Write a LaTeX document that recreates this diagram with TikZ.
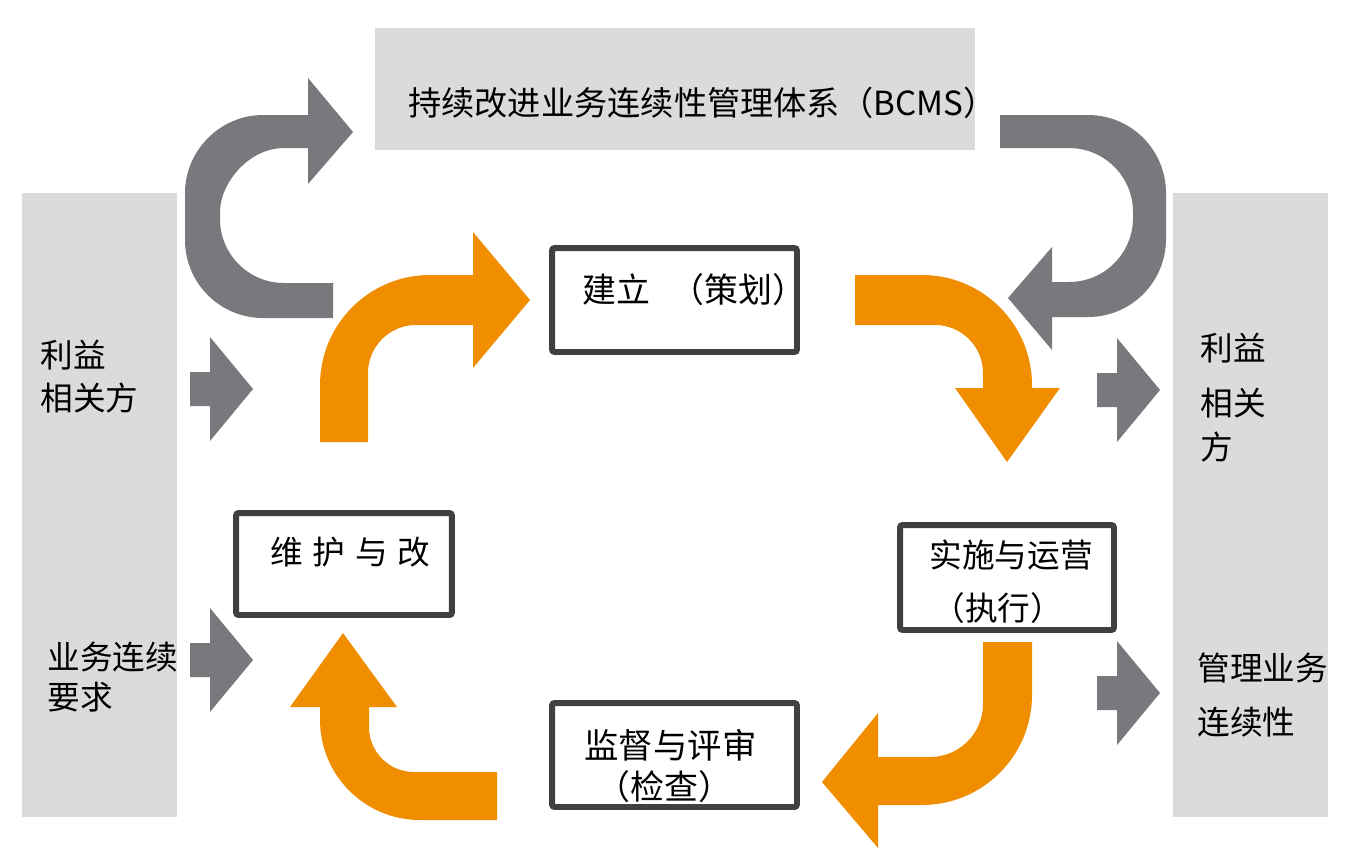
\documentclass[tikz,border=0pt]{standalone}
\usepackage{fontspec}
\setmainfont{Noto Sans CJK SC}
\definecolor{panel}{RGB}{218,219,221}
\definecolor{garrow}{RGB}{120,121,124}
\definecolor{borange}{RGB}{240,142,0}
\definecolor{boxline}{RGB}{64,64,66}
\tikzset{
  panelbox/.style={fill=panel, draw=none, inner sep=0pt},
  stagebox/.style={draw=boxline, line width=3.4pt, fill=white, rounded corners=1.5pt, inner sep=0pt},
  lbl/.style={inner sep=0pt, anchor=west, font=\fontsize{18.6pt}{22pt}\selectfont},
  biglbl/.style={lbl, font=\fontsize{19.3pt}{23pt}\selectfont},
  garrowfill/.style={fill=garrow},
  oarrowfill/.style={fill=borange},
  sidearrow/.pic={\fill[garrowfill] (-63,-17) -- (-43,-17) -- (-43,-52) -- (0,0) -- (-43,52) -- (-43,17) -- (-63,17) -- cycle;}
}
\begin{document}
\begin{tikzpicture}[x=0.02cm, y=-0.02cm]
\useasboundingbox (0,0) rectangle (1368,852);
% panels
\node[panelbox, minimum width=3.1cm, minimum height=12.48cm] (lpanel) at (99.5,505) {};
\node[panelbox, minimum width=3.1cm, minimum height=12.48cm] (rpanel) at (1250.5,505) {};
\node[panelbox, minimum width=12cm, minimum height=2.44cm] (top) at (675,89) {};
\node[lbl, font=\fontsize{18.9pt}{23pt}\selectfont] (toptext) at (408,103) {持续改进业务连续性管理体系（BCMS）};
% gray C arrows
\fill[garrowfill] (333,318) -- (263,318) .. controls (219.9,318) and (185,283.1) .. (185,240)
  -- (185,193) .. controls (185,150.9) and (219.9,115) .. (263,115) -- (308,115) -- (308,78)
  -- (353,132) -- (308,184) -- (308,148) -- (284,148) .. controls (248.7,148) and (220,183.3) .. (220,212)
  -- (220,219) .. controls (220,254.3) and (248.7,283) .. (284,283) -- (333,283) -- cycle;
\fill[garrowfill] (1000,115) -- (1088,115) .. controls (1131.1,115) and (1166,149.9) .. (1166,193)
  -- (1166,239) .. controls (1166,282.1) and (1131.1,317) .. (1088,317) -- (1052,317) -- (1052,350)
  -- (1008,298) -- (1052,247) -- (1052,282) -- (1069,282) .. controls (1104.3,282) and (1133,253.3) .. (1133,218)
  -- (1133,212) .. controls (1133,176.7) and (1104.3,148) .. (1069,148) -- (1000,148) -- cycle;
% side arrows
\pic at (253,389) {sidearrow};
\pic at (253,660) {sidearrow};
\pic at (1160,390) {sidearrow};
\pic at (1160,693) {sidearrow};
% orange arrows
\fill[oarrowfill] (320,442) -- (320,385) .. controls (320,324.2) and (369.2,275) .. (430,275) -- (473,275)
  -- (473,232) -- (530,300) -- (473,368) -- (473,325) -- (416,325) .. controls (389.5,325) and (368,346.5) .. (368,373)
  -- (368,442) -- cycle;
\fill[oarrowfill] (855,275) -- (922,275) .. controls (982.75,275) and (1032,324.25) .. (1032,385) -- (1032,388)
  -- (1060,388) -- (1007,462) -- (955,388) -- (983,388) -- (983,373) .. controls (983,346.5) and (961.5,325) .. (935,325)
  -- (855,325) -- cycle;
\fill[oarrowfill] (983,642) -- (1032,642) -- (1032,695) .. controls (1032,755.75) and (982.75,805) .. (922,805)
  -- (878,805) -- (878,848) -- (822,782) -- (878,713) -- (878,757) -- (930,757) .. controls (959.3,757) and (983,733.3) .. (983,704)
  -- cycle;
\fill[oarrowfill] (497,772) -- (414,772) .. controls (389.1,772) and (369,751.9) .. (369,727) -- (369,707)
  -- (397,707) -- (343,633) -- (290,707) -- (320,707) -- (320,720) .. controls (320,775.2) and (364.8,820) .. (420,820)
  -- (497,820) -- cycle;
% stage boxes
\node[stagebox, minimum width=4.9cm, minimum height=2.08cm] (plan) at (674.5,300) {};
\node[biglbl] (plantext) at (582,290) {建立\hspace{0.6em}（策划）};
\node[stagebox, minimum width=4.32cm, minimum height=2.04cm] (act) at (344,564) {};
\node[lbl] (acttext) at (270,552) {维\hspace{0.3em}护\hspace{0.3em}与\hspace{0.3em}改};
\node[stagebox, minimum width=4.28cm, minimum height=2.1cm] (do) at (1007,577.5) {};
\node[lbl] (dotext1) at (929,555) {实施与运营};
\node[lbl] (dotext2) at (932,608) {（执行）};
\node[stagebox, minimum width=4.9cm, minimum height=2.08cm] (check) at (674.5,755) {};
\node[biglbl, font=\fontsize{19.6pt}{23pt}\selectfont] (checktext1) at (584,745) {监督与评审};
\node[biglbl] (checktext2) at (596,787) {（检查）};
% panel labels
\node[lbl] (l1) at (40,355) {利益};
\node[lbl] (l2) at (40,398) {相关方};
\node[lbl] (l3) at (47,657) {业务连续};
\node[lbl] (l4) at (47,697) {要求};
\node[lbl] (r1) at (1200,348) {利益};
\node[lbl] (r2) at (1200,403) {相关};
\node[lbl] (r3) at (1200,447) {方};
\node[lbl] (r4) at (1197,668) {管理业务};
\node[lbl] (r5) at (1197,722) {连续性};
\end{tikzpicture}
\end{document}
